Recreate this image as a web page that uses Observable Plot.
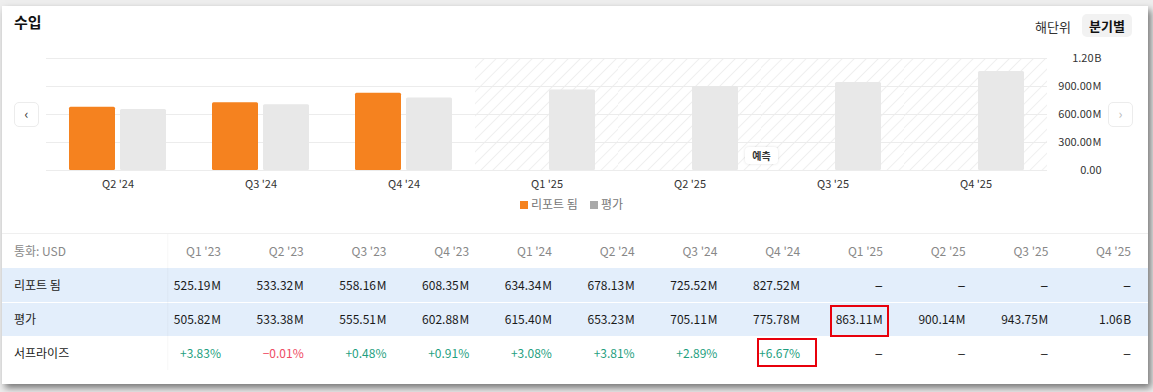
<!DOCTYPE html>
<html><head><meta charset="utf-8">
<script src="https://cdn.jsdelivr.net/npm/d3@7"></script>
<script src="https://cdn.jsdelivr.net/npm/@observablehq/plot@0.6"></script>
<style>
html,body{margin:0;padding:0;width:1153px;height:392px;overflow:hidden;background:#eeeeee;font-family:"Noto Sans CJK KR","Noto Sans",sans-serif;color:#222;}
.abs{position:absolute;}
#card{left:2px;top:6px;width:1146px;height:378px;background:#fff;box-shadow:3px 4px 7px rgba(0,0,0,.5);}
#title{left:14px;top:11px;font-size:15px;font-weight:700;color:#111;}
#yearly{left:1035px;top:17px;font-size:13px;color:#333;}
#quarterly{left:1082px;top:14px;width:50px;height:23px;line-height:23px;text-align:center;background:#f2f2f2;border-radius:5px;font-size:13px;font-weight:700;color:#111;}
.nav{width:23px;height:23px;border:1px solid #ececec;border-radius:5px;background:#fff;text-align:center;line-height:22px;font-size:13px;}
#chart{left:0;top:40px;}
#badge{left:745px;top:147px;width:33px;height:17px;line-height:17px;text-align:center;background:#fff;border-radius:4px;box-shadow:0 0 3px rgba(0,0,0,.12);font-size:10px;font-weight:700;color:#333;}
#legend{top:195px;left:0;width:1143px;text-align:center;font-size:12px;color:#777;}
#legend span.sw{display:inline-block;width:8px;height:8px;margin-right:3px;vertical-align:0px;}
#legend span.item{margin:0 6px;}
.row{left:2px;width:1146px;}
.cell{position:absolute;font-size:12px;text-align:right;white-space:nowrap;}
.dash{font-size:15px;line-height:17px;}
.lbl{position:absolute;left:14px;font-size:12px;color:#222;}
.redbox{position:absolute;border:2px solid #e8000b;box-sizing:border-box;}
</style>
</head><body>
<div id="card" class="abs"></div>
<div id="title" class="abs">수입</div>
<div id="yearly" class="abs">해단위</div>
<div id="quarterly" class="abs">분기별</div>
<div class="abs nav" style="left:14px;top:102px;color:#333;">‹</div>
<div class="abs nav" style="left:1108px;top:102px;color:#bbb;">›</div>
<div id="chart" class="abs"></div>
<div id="badge" class="abs">예측</div>
<div id="legend" class="abs"></div>
<div id="table"></div>
<script>
// ---- data (values in millions USD) ----
const tableQuarters = ["Q1 '23","Q2 '23","Q3 '23","Q4 '23","Q1 '24","Q2 '24","Q3 '24","Q4 '24","Q1 '25","Q2 '25","Q3 '25","Q4 '25"];
const reportedValues = [525.19, 533.32, 558.16, 608.35, 634.34, 678.13, 725.52, 827.52, null, null, null, null];
const estimateValues = [505.82, 533.38, 555.51, 602.88, 615.40, 653.23, 705.11, 775.78, 863.11, 900.14, 943.75, 1060];
const surpriseValues = [3.83, -0.01, 0.48, 0.91, 3.08, 3.81, 2.89, 6.67, null, null, null, null];
const chartQuarters = ["Q2 '24","Q3 '24","Q4 '24","Q1 '25","Q2 '25","Q3 '25","Q4 '25"];
const forecastQuarters = ["Q1 '25","Q2 '25","Q3 '25","Q4 '25"];
const seriesNames = ["리포트 됨","평가"];
const seriesColors = ["#f5821f","#e8e8e8"];
const yTicks = [0, 300, 600, 900, 1200];
const yTickLabels = ["0.00","300.00\u200AM","600.00\u200AM","900.00\u200AM","1.20\u200AB"];

// ---- chart rows ----
const rows = [];
chartQuarters.forEach(q => {
  const i = tableQuarters.indexOf(q);
  if (reportedValues[i] != null) rows.push({quarter: q, series: seriesNames[0], value: reportedValues[i]});
  if (estimateValues[i] != null) rows.push({quarter: q, series: seriesNames[1], value: estimateValues[i]});
});

const font = '"Noto Sans CJK KR","Noto Sans",sans-serif';
const chart = Plot.plot({
  width: 1153, height: 160,
  marginLeft: 45, marginRight: 106, marginTop: 18, marginBottom: 30,
  style: {fontFamily: font, fontSize: "11px", color: "#333", background: "transparent", overflow: "visible"},
  fx: {domain: chartQuarters, padding: 0, label: null},
  x: {domain: seriesNames, paddingInner: 0.1, paddingOuter: 0.45, axis: null},
  y: {domain: [0, 1200], axis: null},
  color: {domain: seriesNames, range: seriesColors},
  marks: [
    Plot.rect(forecastQuarters, {fx: d => d, y1: 0, y2: 1200, fill: "url(#hatch)"}),
    Plot.gridY(yTicks, {stroke: "#ececec", strokeOpacity: 1}),
    Plot.barY(rows, {fx: "quarter", x: "series", y: "value", fill: "series", rx: 1.5}),
    Plot.axisFx({anchor: "bottom", tickSize: 0, tickPadding: 10, fontSize: 11, label: null}),
    Plot.axisY(yTicks, {anchor: "right", tickSize: 0, tickPadding: 0, textAnchor: "end", dx: 54,
      tickFormat: d => yTickLabels[yTicks.indexOf(d)], label: null, fontSize: 11})
  ]
});
const ns = "http://www.w3.org/2000/svg";
const defs = document.createElementNS(ns, "defs");
defs.innerHTML = '<pattern id="hatch" patternUnits="userSpaceOnUse" width="8.5" height="8.5" patternTransform="rotate(45)"><rect width="8.5" height="8.5" fill="#ffffff"/><line x1="0" y1="0" x2="0" y2="8.5" stroke="#e6e6e6" stroke-width="1.2"/></pattern>';
chart.insertBefore(defs, chart.firstChild);
document.getElementById("chart").appendChild(chart);

// ---- legend ----
document.getElementById("legend").innerHTML = seriesNames.map((s, i) =>
  `<span class="item"><span class="sw" style="background:${i === 0 ? seriesColors[0] : "#a9a9a9"}"></span>${s}</span>`).join("");

// ---- table ----
const dash = `<span class="dash">–</span>`;
const fmtVal = v => v == null ? dash : (v >= 1000 ? (v / 1000).toFixed(2) + "\u200AB" : v.toFixed(2) + "\u200AM");
const fmtPct = v => v == null ? dash : (v >= 0 ? "+" : "−") + Math.abs(v).toFixed(2) + "%";
const colRight = i => 221 + i * 82.73;
let html = "";
html += `<div class="abs" style="left:2px;top:233px;width:1146px;height:1px;background:#efefef"></div>`;
html += `<div class="abs row" style="top:268px;height:34px;background:#e3eefb"></div>`;
html += `<div class="abs row" style="top:303px;height:33px;background:#e3eefb"></div>`;
html += `<div class="abs" style="left:167px;top:234px;width:2px;height:136px;background:linear-gradient(to right,rgba(0,0,0,0.03),rgba(0,0,0,0))"></div>`;
html += `<div class="lbl" style="top:242px;color:#888">통화: USD</div>`;
html += `<div class="lbl" style="top:276px">리포트 됨</div>`;
html += `<div class="lbl" style="top:310px">평가</div>`;
html += `<div class="lbl" style="top:344px">서프라이즈</div>`;
tableQuarters.forEach((q, i) => {
  const r = 1153 - colRight(i);
  html += `<div class="cell" style="right:${r}px;top:242px;color:#888">${q}</div>`;
  html += `<div class="cell" style="right:${r}px;top:276px;color:#1a1a1a">${fmtVal(reportedValues[i])}</div>`;
  html += `<div class="cell" style="right:${r}px;top:310px;color:#1a1a1a">${fmtVal(estimateValues[i])}</div>`;
  const s = surpriseValues[i];
  const c = s == null ? "#333" : (s >= 0 ? "#1f9f7f" : "#ef4b63");
  html += `<div class="cell" style="right:${r}px;top:344px;color:${c}">${fmtPct(s)}</div>`;
});
html += `<div class="redbox" style="left:830px;top:305px;width:59px;height:32px"></div>`;
html += `<div class="redbox" style="left:757px;top:338px;width:60px;height:29px"></div>`;
document.getElementById("table").innerHTML = html;
</script>
</body></html>
